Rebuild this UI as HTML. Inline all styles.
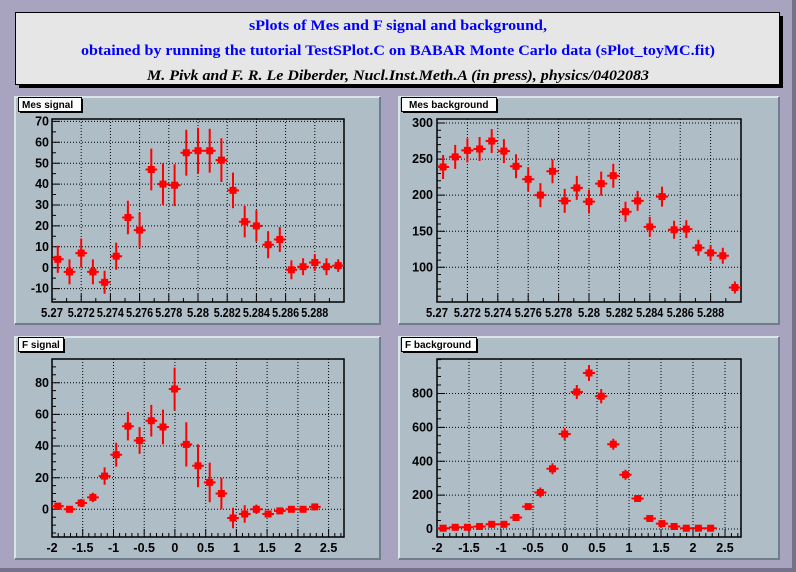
<!DOCTYPE html>
<html><head><meta charset="utf-8"><style>
html,body{margin:0;padding:0;background:#a8a4c0;}
svg{display:block}
.t{font-family:"Liberation Sans",Arial,sans-serif;font-weight:bold;font-size:12.5px;fill:#000}
.lb{font-family:"Liberation Sans",Arial,sans-serif;font-weight:bold;font-size:10px;fill:#000}
.g{stroke:#000;stroke-width:1;stroke-dasharray:1,2;fill:none}
.b{stroke:#f00;stroke-width:2;fill:none}
.m{fill:none;stroke:none;marker-start:url(#sq);marker-mid:url(#sq);marker-end:url(#sq)}
.pad{fill:#afbdc7}
</style></head><body>
<svg width="796" height="572" viewBox="0 0 796 572" xmlns="http://www.w3.org/2000/svg">
<defs><marker id="sq" markerUnits="userSpaceOnUse" markerWidth="8" markerHeight="8" refX="4" refY="4" overflow="visible"><rect x="0.5" y="0.5" width="7" height="7" fill="#f00"/></marker></defs>
<rect width="796" height="572" fill="#a8a4c0"/>
<rect x="792" y="0" width="4" height="572" fill="#75728a"/>
<rect x="0" y="568" width="796" height="4" fill="#75728a"/>
<!-- title -->
<rect x="19" y="16" width="764" height="72" fill="#000"/>
<rect x="15.5" y="12.5" width="764" height="72" fill="#e6e6e6" stroke="#000"/>
<g font-family="'Liberation Serif','Times New Roman',serif" font-weight="bold" font-size="15" text-anchor="middle">
<text x="398" y="30" fill="#0000ff" textLength="298" lengthAdjust="spacingAndGlyphs">sPlots of Mes and F signal and background,</text>
<text x="398" y="55" fill="#0000ff" textLength="634" lengthAdjust="spacingAndGlyphs">obtained by running the tutorial TestSPlot.C on BABAR Monte Carlo data (sPlot_toyMC.fit)</text>
<text x="398" y="80" fill="#000" font-style="italic" textLength="502" lengthAdjust="spacingAndGlyphs">M. Pivk and F. R. Le Diberder, Nucl.Inst.Meth.A (in press), physics/0402083</text>
</g>
<!-- pads -->
<g>
<rect class="pad" x="15" y="97" width="365" height="227"/>
<path d="M15,324V97H380" stroke="#dce4ea" stroke-width="2" fill="none"/><path d="M15,324H380V97" stroke="#6e7e8a" stroke-width="2" fill="none"/>
<rect class="pad" x="399" y="97" width="380" height="227"/>
<path d="M399,324V97H779" stroke="#dce4ea" stroke-width="2" fill="none"/><path d="M399,324H779V97" stroke="#6e7e8a" stroke-width="2" fill="none"/>
<rect class="pad" x="15" y="337" width="365" height="222"/>
<path d="M15,559V337H380" stroke="#dce4ea" stroke-width="2" fill="none"/><path d="M15,559H380V337" stroke="#6e7e8a" stroke-width="2" fill="none"/>
<rect class="pad" x="399" y="337" width="380" height="222"/>
<path d="M399,559V337H779" stroke="#dce4ea" stroke-width="2" fill="none"/><path d="M399,559H779V337" stroke="#6e7e8a" stroke-width="2" fill="none"/>
</g>

<!-- PAD 1 -->
<g>
<path class="g" d="M52,121.4H344M52,142.3H344M52,163.2H344M52,184.1H344M52,205H344M52,225.9H344M52,246.8H344M52,267.7H344M52,288.6H344M81.2,119V302M110.4,119V302M139.6,119V302M168.8,119V302M198,119V302M227.2,119V302M256.4,119V302M285.6,119V302M314.8,119V302"/>
<rect x="52" y="119" width="292" height="183" fill="none" stroke="#000" stroke-width="1.5"/>
<path stroke="#000" fill="none" d="M52,121.4h8M52,142.3h8M52,163.2h8M52,184.1h8M52,205h8M52,225.9h8M52,246.8h8M52,267.7h8M52,288.6h8M52,131.9h4M52,152.8h4M52,173.6h4M52,194.5h4M52,215.4h4M52,236.3h4M52,257.2h4M52,278.1h4M52,299.1h4M81.2,302v-8M110.4,302v-8M139.6,302v-8M168.8,302v-8M198,302v-8M227.2,302v-8M256.4,302v-8M285.6,302v-8M314.8,302v-8M66.6,302v-4M95.8,302v-4M125,302v-4M154.2,302v-4M183.4,302v-4M212.6,302v-4M241.8,302v-4M271,302v-4M300.2,302v-4M329.4,302v-4"/>
<g class="t" text-anchor="end"><text x="49" y="125.5">70</text><text x="49" y="146.4">60</text><text x="49" y="167.3">50</text><text x="49" y="188.2">40</text><text x="49" y="209.1">30</text><text x="49" y="230">20</text><text x="49" y="250.9">10</text><text x="49" y="271.8">0</text><text x="49" y="292.7">-10</text></g>
<g class="t" text-anchor="middle" lengthAdjust="spacingAndGlyphs"><text x="52" y="317" textLength="22" lengthAdjust="spacingAndGlyphs">5.27</text><text x="81.2" y="317" textLength="27" lengthAdjust="spacingAndGlyphs">5.272</text><text x="110.4" y="317" textLength="27" lengthAdjust="spacingAndGlyphs">5.274</text><text x="139.6" y="317" textLength="27" lengthAdjust="spacingAndGlyphs">5.276</text><text x="168.8" y="317" textLength="27" lengthAdjust="spacingAndGlyphs">5.278</text><text x="198" y="317" textLength="22" lengthAdjust="spacingAndGlyphs">5.28</text><text x="227.2" y="317" textLength="27" lengthAdjust="spacingAndGlyphs">5.282</text><text x="256.4" y="317" textLength="27" lengthAdjust="spacingAndGlyphs">5.284</text><text x="285.6" y="317" textLength="27" lengthAdjust="spacingAndGlyphs">5.286</text><text x="314.8" y="317" textLength="27" lengthAdjust="spacingAndGlyphs">5.288</text></g>
<path class="b" d="M52,259.3h11.7M57.8,245.7v27.2M63.7,271.9h11.7M69.5,259.4v25M75.4,253.1h11.7M81.2,238.5v29.2M87.1,271.9h11.7M92.9,259.4v25M98.8,282.3h11.7M104.6,270.8v23M110.4,256.2h11.7M116.2,242.6v27.2M122.1,217.5h11.7M127.9,200.8v33.4M133.8,230.1h11.7M139.6,212.3v35.6M145.5,169.5h11.7M151.3,148.6v41.8M157.2,184.1h11.7M163,163.2v41.8M168.8,185.2h11.7M174.6,164.3v41.8M180.5,152.7h11.7M186.3,129.7v46M192.2,150.7h11.7M198,127.7v46M203.9,150.7h11.7M209.7,128.8v43.8M215.6,160.1h11.7M221.4,138.2v43.8M227.2,190.4h11.7M233,172.6v35.6M238.9,221.7h11.7M244.7,206v31.4M250.6,225.9h11.7M256.4,210.2v31.4M262.3,244.7h11.7M268.1,231.1v27.2M274,239.5h11.7M279.8,227v25M285.6,269.8h11.7M291.4,260.4v18.8M297.3,266.7h11.7M303.1,258.3v16.8M309,262.5h11.7M314.8,254.1v16.8M320.7,266.7h11.7M326.5,258.3v16.8M332.4,265.6h11.7M338.2,259.3v12.6"/>
<polyline class="m" points="57.8,259.3 69.5,271.9 81.2,253.1 92.9,271.9 104.6,282.3 116.2,256.2 127.9,217.5 139.6,230.1 151.3,169.5 163,184.1 174.6,185.2 186.3,152.7 198,150.7 209.7,150.7 221.4,160.1 233,190.4 244.7,221.7 256.4,225.9 268.1,244.7 279.8,239.5 291.4,269.8 303.1,266.7 314.8,262.5 326.5,266.7 338.2,265.6"/>
<rect x="20" y="99" width="63" height="14" fill="#000"/><rect x="18.5" y="97.5" width="63" height="14" fill="#fff" stroke="#000"/>
<text class="lb" x="22" y="108">Mes signal</text>
</g>

<!-- PAD 2 -->
<g>
<path class="g" d="M437,123H741M437,159.1H741M437,195.1H741M437,231.2H741M437,267.3H741M467.4,119V302M497.8,119V302M528.2,119V302M558.6,119V302M589,119V302M619.4,119V302M649.8,119V302M680.2,119V302M710.6,119V302"/>
<rect x="437" y="119" width="304" height="183" fill="none" stroke="#000" stroke-width="1.5"/>
<path stroke="#000" fill="none" d="M437,123h8M437,159.1h8M437,195.1h8M437,231.2h8M437,267.3h8M437,130.2h4M437,137.4h4M437,144.6h4M437,151.9h4M437,166.3h4M437,173.5h4M437,180.7h4M437,187.9h4M437,202.3h4M437,209.5h4M437,216.8h4M437,224h4M437,238.4h4M437,245.6h4M437,252.9h4M437,260.1h4M437,274.5h4M437,281.7h4M437,289h4M437,296.2h4M467.4,302v-8M497.8,302v-8M528.2,302v-8M558.6,302v-8M589,302v-8M619.4,302v-8M649.8,302v-8M680.2,302v-8M710.6,302v-8M452.2,302v-4M482.6,302v-4M513,302v-4M543.4,302v-4M573.8,302v-4M604.2,302v-4M634.6,302v-4M665,302v-4M695.4,302v-4M725.8,302v-4"/>
<g class="t" text-anchor="end"><text x="433" y="127.1">300</text><text x="433" y="163.2">250</text><text x="433" y="199.2">200</text><text x="433" y="235.3">150</text><text x="433" y="271.4">100</text></g>
<g class="t" text-anchor="middle"><text x="437" y="317" textLength="22" lengthAdjust="spacingAndGlyphs">5.27</text><text x="467.4" y="317" textLength="27" lengthAdjust="spacingAndGlyphs">5.272</text><text x="497.8" y="317" textLength="27" lengthAdjust="spacingAndGlyphs">5.274</text><text x="528.2" y="317" textLength="27" lengthAdjust="spacingAndGlyphs">5.276</text><text x="558.6" y="317" textLength="27" lengthAdjust="spacingAndGlyphs">5.278</text><text x="589" y="317" textLength="22" lengthAdjust="spacingAndGlyphs">5.28</text><text x="619.4" y="317" textLength="27" lengthAdjust="spacingAndGlyphs">5.282</text><text x="649.8" y="317" textLength="27" lengthAdjust="spacingAndGlyphs">5.284</text><text x="680.2" y="317" textLength="27" lengthAdjust="spacingAndGlyphs">5.286</text><text x="710.6" y="317" textLength="27" lengthAdjust="spacingAndGlyphs">5.288</text></g>
<path class="b" d="M437,167h12.2M443.1,155v24M449.1,156.9h12.2M455.2,144.9v24M461.3,150.4h12.2M467.4,138.4v24M473.5,149h12.2M479.6,137v24M485.6,141h12.2M491.7,129v24M497.8,151.1h12.2M503.9,139.1v24M509.9,166.3h12.2M516,154.3v24M522.1,179.3h12.2M528.2,167.3v24M534.3,195.1h12.2M540.4,183.1v24M546.4,171.3h12.2M552.5,159.3v24M558.6,200.9h12.2M564.7,188.9v24M570.7,187.9h12.2M576.8,175.9v24M582.9,201.6h12.2M589,189.6v24M595.1,183.6h12.2M601.2,171.6v24M607.2,175.7h12.2M613.3,163.7v24M619.4,211.7h12.2M625.5,201.7v20M631.5,200.9h12.2M637.6,190.9v20M643.7,226.9h12.2M649.8,216.9v20M655.9,196.6h12.2M662,186.6v20M668,229.8h12.2M674.1,220.8v18M680.2,229.1h12.2M686.3,220.1v18M692.3,247.8h12.2M698.4,239.8v16M704.5,252.9h12.2M710.6,244.9v16M716.7,255.8h12.2M722.8,247.8v16M728.8,287.5h12.2M734.9,281.5v12"/>
<polyline class="m" points="443.1,167 455.2,156.9 467.4,150.4 479.6,149 491.7,141 503.9,151.1 516,166.3 528.2,179.3 540.4,195.1 552.5,171.3 564.7,200.9 576.8,187.9 589,201.6 601.2,183.6 613.3,175.7 625.5,211.7 637.6,200.9 649.8,226.9 662,196.6 674.1,229.8 686.3,229.1 698.4,247.8 710.6,252.9 722.8,255.8 734.9,287.5"/>
<rect x="403" y="99" width="95" height="14" fill="#000"/><rect x="401.5" y="97.5" width="95" height="14" fill="#fff" stroke="#000"/>
<text class="lb" x="409" y="108">Mes background</text>
</g>

<!-- PAD 3 -->
<g>
<path class="g" d="M52,382.7H344M52,414.4H344M52,446H344M52,477.7H344M52,509.3H344M82.7,359V537M113.5,359V537M144.2,359V537M174.9,359V537M205.7,359V537M236.4,359V537M267.1,359V537M297.9,359V537M328.6,359V537"/>
<rect x="52" y="359" width="292" height="178" fill="none" stroke="#000" stroke-width="1.5"/>
<path stroke="#000" fill="none" d="M52,382.7h8M52,414.4h8M52,446h8M52,477.7h8M52,509.3h8M52,366.9h4M52,374.8h4M52,390.6h4M52,398.5h4M52,406.4h4M52,422.2h4M52,430.2h4M52,438.1h4M52,453.9h4M52,461.8h4M52,469.8h4M52,485.6h4M52,493.5h4M52,501.4h4M52,517.2h4M52,525.1h4M52,533h4M82.7,537v-8M113.5,537v-8M144.2,537v-8M174.9,537v-8M205.7,537v-8M236.4,537v-8M267.1,537v-8M297.9,537v-8M328.6,537v-8M58.2,537v-4M64.3,537v-4M70.5,537v-4M76.6,537v-4M88.8,537v-4M95,537v-4M101.1,537v-4M107.3,537v-4M119.6,537v-4M125.7,537v-4M131.9,537v-4M138,537v-4M150.3,537v-4M156.5,537v-4M162.6,537v-4M168.8,537v-4M181,537v-4M187.2,537v-4M193.3,537v-4M199.5,537v-4M211.8,537v-4M218,537v-4M224.1,537v-4M230.2,537v-4M242.5,537v-4M248.7,537v-4M254.8,537v-4M261,537v-4M273.3,537v-4M279.4,537v-4M285.6,537v-4M291.7,537v-4M304,537v-4M310.2,537v-4M316.3,537v-4M322.5,537v-4M334.8,537v-4M340.9,537v-4"/>
<g class="t" text-anchor="end"><text x="49" y="386.8">80</text><text x="49" y="418.5">60</text><text x="49" y="450.1">40</text><text x="49" y="481.8">20</text><text x="49" y="513.4">0</text></g>
<g class="t" text-anchor="middle"><text x="52" y="552">-2</text><text x="82.7" y="552">-1.5</text><text x="113.5" y="552">-1</text><text x="144.2" y="552">-0.5</text><text x="174.9" y="552">0</text><text x="205.7" y="552">0.5</text><text x="236.4" y="552">1</text><text x="267.1" y="552">1.5</text><text x="297.9" y="552">2</text><text x="328.6" y="552">2.5</text></g>
<path class="b" d="M52,506.1h11.7M63.7,509.3h11.7M75.4,503h11.7M81.2,499v8M87.1,497.4h11.7M92.9,492.7v9.4M98.8,476.1h11.7M104.6,467.4v17.4M110.4,454.7h11.7M116.2,442.8v23.8M122.1,426.2h11.7M127.9,412v28.4M133.8,440.5h11.7M139.6,427.1v26.8M145.5,420.7h11.7M151.3,404.9v31.6M157.2,427h11.7M163,409.6v34.8M168.8,389h11.7M174.6,367.6v42.8M180.5,444.4h11.7M186.3,422.3v44.2M192.2,465.8h11.7M198,444.4v42.8M203.9,482.4h11.7M209.7,462.6v39.6M215.6,493.5h11.7M221.4,477.7v31.6M227.2,518h11.7M233,507.7v20.6M238.9,514h11.7M244.7,505.3v17.4M250.6,509.3h11.7M256.4,504.6v9.4M262.3,514h11.7M274,510.9h11.7M285.6,509.3h11.7M297.3,509.3h11.7M309,506.9h11.7"/>
<polyline class="m" points="57.8,506.1 69.5,509.3 81.2,503 92.9,497.4 104.6,476.1 116.2,454.7 127.9,426.2 139.6,440.5 151.3,420.7 163,427 174.6,389 186.3,444.4 198,465.8 209.7,482.4 221.4,493.5 233,518 244.7,514 256.4,509.3 268.1,514 279.8,510.9 291.4,509.3 303.1,509.3 314.8,506.9"/>
<rect x="20" y="339" width="45" height="14" fill="#000"/><rect x="18.5" y="337.5" width="45" height="14" fill="#fff" stroke="#000"/>
<text class="lb" x="22" y="348">F signal</text>
</g>

<!-- PAD 4 -->
<g>
<path class="g" d="M437,393.5H741M437,427.4H741M437,461.2H741M437,495.1H741M437,529H741M469,359V537M501,359V537M533,359V537M565,359V537M597,359V537M629,359V537M661,359V537M693,359V537M725,359V537"/>
<rect x="437" y="359" width="304" height="178" fill="none" stroke="#000" stroke-width="1.5"/>
<path stroke="#000" fill="none" d="M437,393.5h8M437,427.4h8M437,461.2h8M437,495.1h8M437,529h8M437,359.6h4M437,368h4M437,376.5h4M437,385h4M437,401.9h4M437,410.4h4M437,418.9h4M437,435.8h4M437,444.3h4M437,452.8h4M437,469.7h4M437,478.2h4M437,486.6h4M437,503.6h4M437,512h4M437,520.5h4M469,537v-8M501,537v-8M533,537v-8M565,537v-8M597,537v-8M629,537v-8M661,537v-8M693,537v-8M725,537v-8M443.4,537v-4M449.8,537v-4M456.2,537v-4M462.6,537v-4M475.4,537v-4M481.8,537v-4M488.2,537v-4M494.6,537v-4M507.4,537v-4M513.8,537v-4M520.2,537v-4M526.6,537v-4M539.4,537v-4M545.8,537v-4M552.2,537v-4M558.6,537v-4M571.4,537v-4M577.8,537v-4M584.2,537v-4M590.6,537v-4M603.4,537v-4M609.8,537v-4M616.2,537v-4M622.6,537v-4M635.4,537v-4M641.8,537v-4M648.2,537v-4M654.6,537v-4M667.4,537v-4M673.8,537v-4M680.2,537v-4M686.6,537v-4M699.4,537v-4M705.8,537v-4M712.2,537v-4M718.6,537v-4M731.4,537v-4M737.8,537v-4"/>
<g class="t" text-anchor="end"><text x="433" y="397.6">800</text><text x="433" y="431.5">600</text><text x="433" y="465.3">400</text><text x="433" y="499.2">200</text><text x="433" y="533.1">0</text></g>
<g class="t" text-anchor="middle"><text x="437" y="552">-2</text><text x="469" y="552">-1.5</text><text x="501" y="552">-1</text><text x="533" y="552">-0.5</text><text x="565" y="552">0</text><text x="597" y="552">0.5</text><text x="629" y="552">1</text><text x="661" y="552">1.5</text><text x="693" y="552">2</text><text x="725" y="552">2.5</text></g>
<path class="b" d="M437,528.2h12.2M449.1,527.3h12.2M461.3,527.3h12.2M473.5,526.5h12.2M485.6,524.3h12.2M497.8,524.3h12.2M509.9,517.5h12.2M522.1,506.6h12.2M534.3,492.5h12.2M540.4,487.5v10M546.4,468.8h12.2M552.5,463.3v11M558.6,434h12.2M564.7,428v12M570.7,392h12.2M576.8,385v14M582.9,373h12.2M589,365v16M595.1,396.2h12.2M601.2,389v14.4M607.2,444.2h12.2M613.3,438.7v11M619.4,474.7h12.2M625.5,469.7v10M631.5,498.5h12.2M643.7,518.5h12.2M655.9,523.6h12.2M668,526.5h12.2M680.2,528.2h12.2M692.3,528.2h12.2M704.5,528.2h12.2"/>
<polyline class="m" points="443.1,528.2 455.2,527.3 467.4,527.3 479.6,526.5 491.7,524.3 503.9,524.3 516,517.5 528.2,506.6 540.4,492.5 552.5,468.8 564.7,434 576.8,392 589,373 601.2,396.2 613.3,444.2 625.5,474.7 637.6,498.5 649.8,518.5 662,523.6 674.1,526.5 686.3,528.2 698.4,528.2 710.6,528.2"/>
<rect x="403" y="339" width="75" height="14" fill="#000"/><rect x="401.5" y="337.5" width="75" height="14" fill="#fff" stroke="#000"/>
<text class="lb" x="405" y="348">F background</text>
</g>
</svg>
</body></html>
